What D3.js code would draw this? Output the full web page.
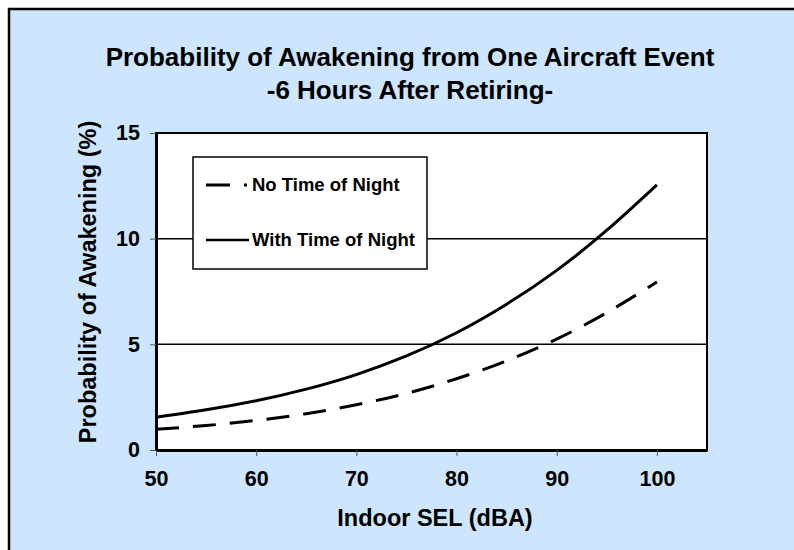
<!DOCTYPE html>
<html lang="en">
<head>
    <meta charset="UTF-8">
    <title>Probability of Awakening from One Aircraft Event</title>
    <script src="https://d3js.org/d3.v7.min.js"></script>
    <style>
        body { margin: 0; background: #fff; }
        svg text { font-family: "Liberation Sans", Arial, sans-serif; font-weight: bold; fill: #000; }
    </style>
</head>
<body>
    <svg id="chart" width="794" height="550"></svg>
    <script>
        // Datos
        const selLevels = [50, 55, 60, 65, 70, 75, 80, 85, 90, 95, 100];
        const noTimeOfNight = [0.98, 1.16, 1.4, 1.72, 2.14, 2.68, 3.37, 4.22, 5.25, 6.5, 7.95];
        const withTimeOfNight = [1.55, 1.9, 2.33, 2.88, 3.57, 4.45, 5.55, 6.9, 8.5, 10.4, 12.55];
        const xTicks = [50, 60, 70, 80, 90, 100];
        const yTicks = [0, 5, 10, 15];
        const gridValues = [5, 10];
        const titleLines = ["Probability of Awakening from One Aircraft Event", "-6 Hours After Retiring-"];

        const svg = d3.select("#chart");

        // Fondo y marco exterior
        svg.append("rect")
            .attr("x", 9).attr("y", 9)
            .attr("width", 900).attr("height", 700)
            .attr("fill", "#cde5fd")
            .attr("stroke", "#000")
            .attr("stroke-width", 2.5);

        const margin = { left: 156, top: 133, right: 707, bottom: 450 };

        const x = d3.scaleLinear().domain([50, 105]).range([margin.left, margin.right]);
        const y = d3.scaleLinear().domain([0, 15]).range([margin.bottom, margin.top]);

        // Área del gráfico
        svg.append("rect")
            .attr("x", margin.left).attr("y", margin.top)
            .attr("width", margin.right - margin.left)
            .attr("height", margin.bottom - margin.top)
            .attr("fill", "#fff")
            .attr("stroke", "#000")
            .attr("stroke-width", 2);

        // Líneas de cuadrícula
        svg.selectAll(".grid")
            .data(gridValues)
            .enter().append("line")
            .attr("class", "grid")
            .attr("x1", margin.left).attr("x2", margin.right)
            .attr("y1", d => y(d)).attr("y2", d => y(d))
            .attr("stroke", "#000")
            .attr("stroke-width", 1.5);

        // Ejes
        const xAxis = svg.append("g")
            .attr("transform", "translate(0," + margin.bottom + ")")
            .call(d3.axisBottom(x).tickValues(xTicks).tickSize(6).tickPadding(15).tickSizeOuter(0));
        const yAxis = svg.append("g")
            .attr("transform", "translate(" + margin.left + ",0)")
            .call(d3.axisLeft(y).tickValues(yTicks).tickSize(6).tickPadding(10).tickSizeOuter(0));

        [xAxis, yAxis].forEach(g => {
            g.select(".domain").attr("stroke", "#000").attr("stroke-width", 3);
            g.selectAll(".tick line").attr("stroke", "#555").attr("stroke-width", 1);
            g.selectAll(".tick text").attr("font-size", 21.5).attr("fill", "#000");
        });

        // Curvas
        const line = d3.line()
            .x((d, i) => x(selLevels[i]))
            .y(d => y(d))
            .curve(d3.curveNatural);

        svg.append("path")
            .datum(noTimeOfNight)
            .attr("d", line)
            .attr("fill", "none")
            .attr("stroke", "#000")
            .attr("stroke-width", 3)
            .attr("stroke-dasharray", "23,14");

        svg.append("path")
            .datum(withTimeOfNight)
            .attr("d", line)
            .attr("fill", "none")
            .attr("stroke", "#000")
            .attr("stroke-width", 3);

        // Leyenda
        const legend = svg.append("g");
        legend.append("rect")
            .attr("x", 193).attr("y", 157)
            .attr("width", 234).attr("height", 112)
            .attr("fill", "#fff")
            .attr("stroke", "#000")
            .attr("stroke-width", 1.5);

        legend.append("line")
            .attr("x1", 206).attr("x2", 247).attr("y1", 185).attr("y2", 185)
            .attr("stroke", "#000").attr("stroke-width", 3)
            .attr("stroke-dasharray", "24,14");
        legend.append("text")
            .attr("x", 252).attr("y", 185)
            .attr("dy", "0.35em")
            .attr("font-size", 18.5)
            .text("No Time of Night");

        legend.append("line")
            .attr("x1", 206).attr("x2", 249).attr("y1", 240).attr("y2", 240)
            .attr("stroke", "#000").attr("stroke-width", 2.5);
        legend.append("text")
            .attr("x", 252).attr("y", 240)
            .attr("dy", "0.35em")
            .attr("font-size", 18.5)
            .text("With Time of Night");

        // Títulos
        svg.selectAll(".title")
            .data(titleLines)
            .enter().append("text")
            .attr("class", "title")
            .attr("x", 410)
            .attr("y", (d, i) => 57 + i * 33)
            .attr("dy", "0.35em")
            .attr("text-anchor", "middle")
            .attr("font-size", 26)
            .text(d => d);

        svg.append("text")
            .attr("x", 435).attr("y", 518)
            .attr("dy", "0.35em")
            .attr("text-anchor", "middle")
            .attr("font-size", 23.5)
            .text("Indoor SEL (dBA)");

        svg.append("text")
            .attr("transform", "translate(88,282) rotate(-90)")
            .attr("dy", "0.35em")
            .attr("text-anchor", "middle")
            .attr("font-size", 23.5)
            .text("Probability of Awakening (%)");
    </script>
</body>
</html>
